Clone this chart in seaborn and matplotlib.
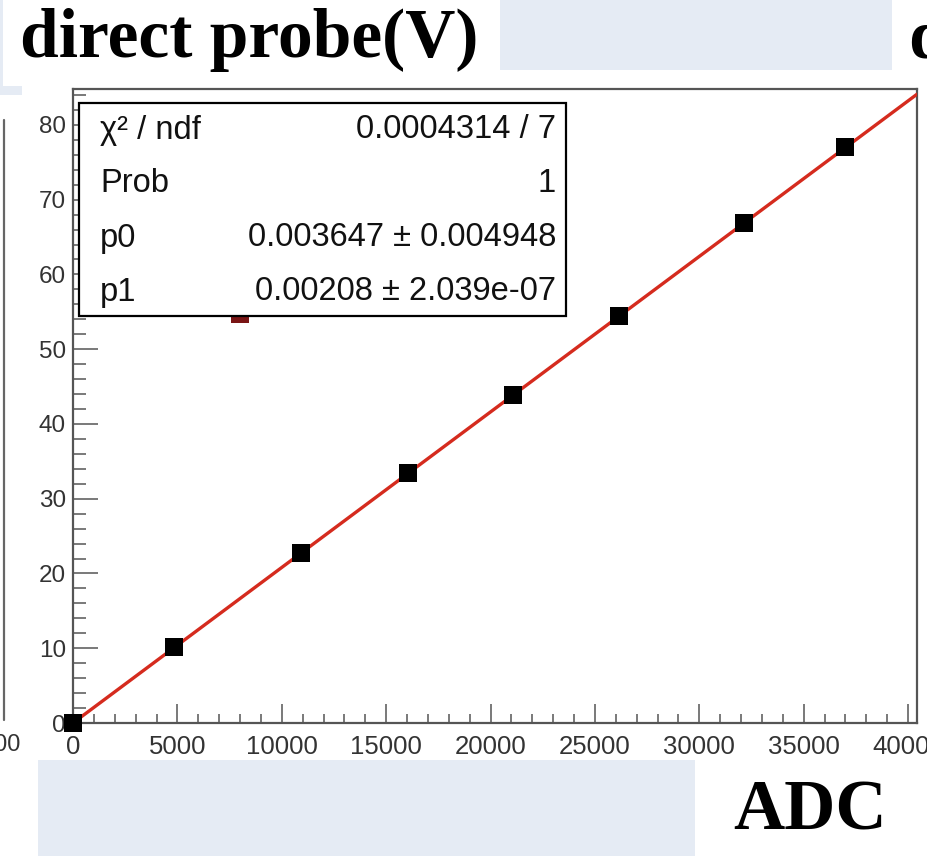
import matplotlib
matplotlib.use("Agg")
import matplotlib.pyplot as plt
from matplotlib.patches import Rectangle
from matplotlib.lines import Line2D
from matplotlib.ticker import MultipleLocator
import numpy as np
import pandas as pd
import seaborn as sns

# Calibration points: ADC counts vs. direct probe voltage
adc = [0, 4850, 10900, 16050, 21100, 26150, 32150, 37000]
volts = [0, 10.1, 22.7, 33.4, 43.9, 54.4, 66.9, 77.0]
# Point drawn underneath the fit-statistics box
extra_adc = [8000]
extra_volts = [54.7]

# Linear fit result  V = p0 + p1 * ADC
p0 = 0.003647
p1 = 0.00208
stats_names = ["χ² / ndf", "Prob", "p0", "p1"]
stats_values = ["0.0004314 / 7", "1", "0.003647 ± 0.004948", "0.00208 ± 2.039e-07"]

x_major_ticks = [0, 5000, 10000, 15000, 20000, 25000, 30000, 35000, 40000]
y_major_ticks = [0, 10, 20, 30, 40, 50, 60, 70, 80]

W, H = 927, 856
sns.set_style("ticks")
plt.rcParams["font.family"] = ["Liberation Sans", "DejaVu Sans"]

fig = plt.figure(figsize=(W / 100, H / 100), dpi=100)
fig.patch.set_facecolor("white")


def fx(px):
    return px / W


def fy(py):
    return 1 - py / H


slide_blue = "#e5ebf4"
# slide background patches
for (x0, y0, x1, y1) in [(500, 0, 892, 70), (38, 760, 695, 856),
                         (0, 0, 3, 95), (0, 86, 22, 95)]:
    fig.patches.append(Rectangle((fx(x0), fy(y1)), fx(x1) - fx(x0), fy(y0) - fy(y1),
                                 transform=fig.transFigure, facecolor=slide_blue,
                                 edgecolor="none", zorder=0))

# neighbouring plot edge on the far left
fig.lines.append(Line2D([fx(4), fx(4)], [fy(120), fy(720)], transform=fig.transFigure,
                        color="#666666", lw=1.6))
fig.text(fx(21), fy(745), "000", ha="right", va="center", fontsize=17, color="#333333")

# slide titles
fig.text(fx(20), fy(57), "direct probe(V)", family=["Liberation Serif"], fontweight="bold",
         fontsize=50, ha="left", va="baseline", color="black")
fig.text(fx(908), fy(57), "d", family=["Liberation Serif"], fontweight="bold",
         fontsize=50, ha="left", va="baseline", color="black")
fig.text(fx(733), fy(830), "ADC", family=["Liberation Serif"], fontweight="bold",
         fontsize=51, ha="left", va="baseline", color="black")

# main plotting frame
ax_l, ax_r, ax_t, ax_b = 73, 917, 89, 723
ax = fig.add_axes([fx(ax_l), fy(ax_b), fx(ax_r) - fx(ax_l), fy(ax_t) - fy(ax_b)])
ax.set_facecolor("white")

x_max = 40431
y_max = 84.8

df_fit = pd.DataFrame({"adc": [0, x_max], "volts": [p0, p0 + p1 * x_max]})
sns.lineplot(data=df_fit, x="adc", y="volts", ax=ax, color="#d52b1e", lw=2.4, zorder=3)

df_extra = pd.DataFrame({"adc": extra_adc, "volts": extra_volts})
sns.scatterplot(data=df_extra, x="adc", y="volts", ax=ax, marker="s", s=150,
                color="#7a1515", linewidth=0, zorder=2)

df_pts = pd.DataFrame({"adc": adc, "volts": volts})
sns.scatterplot(data=df_pts, x="adc", y="volts", ax=ax, marker="s", s=150,
                color="black", linewidth=0, zorder=4)
ax.collections[-1].set_clip_on(False)

ax.set_xlim(0, x_max)
ax.set_ylim(0, y_max)
ax.set_xlabel("")
ax.set_ylabel("")
ax.set_xticks(x_major_ticks)
ax.set_yticks(y_major_ticks)
ax.set_xticklabels([str(t) for t in x_major_ticks])
ax.set_yticklabels([str(t) for t in y_major_ticks])
ax.xaxis.set_minor_locator(MultipleLocator(1000))
ax.yaxis.set_minor_locator(MultipleLocator(2))

frame_col = "#555555"
for sp in ax.spines.values():
    sp.set_visible(True)
    sp.set_color(frame_col)
    sp.set_linewidth(1.6)

ax.tick_params(axis="x", which="major", direction="in", length=13.5, width=1.1,
               color=frame_col, labelsize=18.5, labelcolor="#333333", pad=9)
ax.tick_params(axis="x", which="minor", direction="in", length=6.8, width=1.1, color=frame_col)
ax.tick_params(axis="y", which="major", direction="in", length=18, width=1.1,
               color=frame_col, labelsize=17.5, labelcolor="#333333", pad=5)
ax.tick_params(axis="y", which="minor", direction="in", length=9, width=1.1, color=frame_col)

# fit statistics box
bx0, by0, bx1, by1 = 79, 103, 566, 316
ax.add_patch(Rectangle((fx(bx0), fy(by1)), fx(bx1) - fx(bx0), fy(by0) - fy(by1),
                       transform=fig.transFigure, facecolor="white", edgecolor="black",
                       lw=1.6, zorder=10, clip_on=False))
row_y = [130, 184, 238, 292]
for name, val, ry in zip(stats_names, stats_values, row_y):
    ax.text(fx(100), fy(ry), name, transform=fig.transFigure, ha="left", va="center",
            fontsize=23.5, color="#111111", zorder=11)
    ax.text(fx(556), fy(ry), val, transform=fig.transFigure, ha="right", va="center",
            fontsize=23.5, color="#111111", zorder=11)

fig.savefig("out.png", dpi=100)
